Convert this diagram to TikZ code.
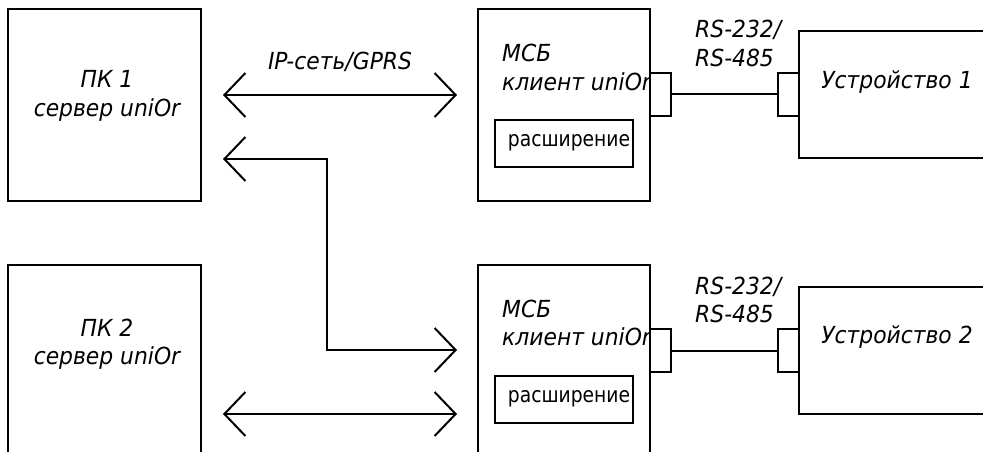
\documentclass[tikz,border=0pt]{standalone}
\usepackage{fontspec}
\setmainfont{DejaVu Sans}
\newfontfamily\tahit{DejaVu Sans}[FakeStretch=0.93]
\newfontfamily\tahup{DejaVu Sans}[FakeStretch=0.87]
\usetikzlibrary{arrows.meta}
\begin{document}
\begin{tikzpicture}[x=1pt,y=-1pt,
  box/.style={draw, line width=2pt, rectangle, inner sep=0pt, fill=white},
  lbl/.style={font=\tahit\fontsize{23.5}{28.5}\selectfont\itshape, align=center, inner sep=0pt},
  lbll/.style={lbl, align=left, anchor=west},
  extlbl/.style={font=\tahup\fontsize{21.5}{24}\selectfont, inner sep=0pt},
  conn/.style={line width=2pt},
  dbl/.style={line width=2pt, {Straight Barb[length=21pt,width=44pt]}-{Straight Barb[length=21pt,width=44pt]}, shorten <=21pt, shorten >=20pt}
]
\useasboundingbox (0,0) rectangle (983,452);
\clip (0,0) rectangle (983,452);

% main boxes
\node[box, minimum width=193pt, minimum height=192pt] (pc1) at (104.5,105) {};
\node[box, minimum width=193pt, minimum height=192pt] (pc2) at (104.5,361) {};
\node[box, minimum width=172pt, minimum height=192pt] (msb1) at (564,105) {};
\node[box, minimum width=172pt, minimum height=192pt] (msb2) at (564,361) {};
\node[box, minimum width=201pt, minimum height=127pt] (dev1) at (899.5,94.5) {};
\node[box, minimum width=201pt, minimum height=127pt] (dev2) at (899.5,350.5) {};

% texts
\node[lbl] (pc1t) at (107,96) {ПК 1\\сервер uniOr};
\node[lbl] (pc2t) at (107,344) {ПК 2\\сервер uniOr};
\node[lbll] (msb1t) at (502,67.5) {МСБ\\клиент uniOr};
\node[lbll] (msb2t) at (502,323) {МСБ\\клиент uniOr};
\node[lbl] (dev1t) at (897,82) {Устройство 1};
\node[lbl] (dev2t) at (897,337) {Устройство 2};
\node[lbll] (rs1) at (695,43.5) {RS-232/\\RS-485};
\node[lbll] (rs2) at (695,300) {RS-232/\\RS-485};
\node[lbl] (ip) at (340,62) {IP-сеть/GPRS};

% extension boxes
\node[box, minimum width=138pt, minimum height=47pt] (ext1) at (564,143.5) {};
\node[box, minimum width=138pt, minimum height=47pt] (ext2) at (564,399.5) {};
\node[extlbl] (ext1t) at (569,143) {расширение};
\node[extlbl] (ext2t) at (569,399) {расширение};

% ports
\node[box, minimum width=21pt, minimum height=43pt] (p1a) at (660.5,94.5) {};
\node[box, minimum width=21pt, minimum height=43pt] (p1b) at (788.5,94.5) {};
\node[box, minimum width=21pt, minimum height=43pt] (p2a) at (660.5,350.5) {};
\node[box, minimum width=21pt, minimum height=43pt] (p2b) at (788.5,350.5) {};
\draw[conn] (p1a.east) -- (p1b.west);
\draw[conn] (p2a.east) -- (p2b.west);

% network connectors
\coordinate (y1) at (0,95);
\coordinate (y2) at (0,159);
\coordinate (y3) at (0,350);
\coordinate (y4) at (0,414);
\coordinate (xb) at (327,0);
\draw[dbl] (pc1.east |- y1) -- (msb1.west |- y1);
\draw[dbl] (pc1.east |- y2) -| (xb |- y3) -- (msb2.west |- y3);
\draw[dbl] (pc2.east |- y4) -- (msb2.west |- y4);
\end{tikzpicture}
\end{document}
